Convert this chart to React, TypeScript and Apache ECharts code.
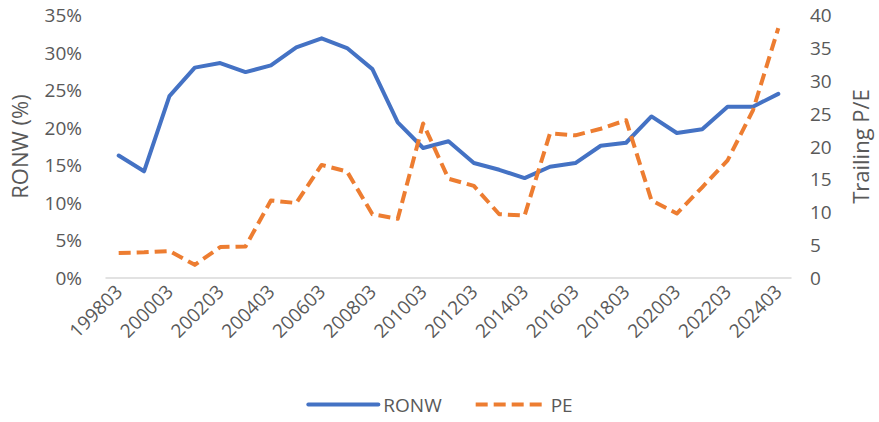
import React, { useEffect, useRef } from "react";
import * as echarts from "echarts";

// Fiscal year ends (March), one point per year
const periods = [
  "199803", "199903", "200003", "200103", "200203", "200303", "200403",
  "200503", "200603", "200703", "200803", "200903", "201003", "201103",
  "201203", "201303", "201403", "201503", "201603", "201703", "201803",
  "201903", "202003", "202103", "202203", "202303", "202403",
];

// Return on net worth, %
const ronw = [
  16.3, 14.2, 24.2, 28.0, 28.6, 27.4, 28.3, 30.7, 31.9, 30.6, 27.8, 20.7,
  17.3, 18.2, 15.3, 14.4, 13.3, 14.8, 15.3, 17.6, 18.0, 21.5, 19.3, 19.8,
  22.8, 22.8, 24.5,
];

// Trailing price / earnings multiple
const pe = [
  3.8, 3.9, 4.1, 2.0, 4.7, 4.8, 11.8, 11.4, 17.2, 16.2, 9.7, 9.0,
  23.5, 15.1, 14.0, 9.7, 9.5, 22.0, 21.7, 22.7, 24.0, 11.8, 9.8, 13.8,
  17.9, 25.5, 38.0,
];

const FONT = "'Open Sans', sans-serif";
const TEXT = "#595959";

export default function App() {
  const ref = useRef<HTMLDivElement>(null);

  useEffect(() => {
    if (!ref.current) return;
    const chart = echarts.init(ref.current, undefined, { renderer: "svg" });
    chart.setOption({
      animation: false,
      backgroundColor: "#ffffff",
      textStyle: { fontFamily: FONT, color: TEXT },
      grid: { left: 106, right: 83, top: 15, bottom: 144, containLabel: false },
      legend: {
        bottom: 3,
        left: "center",
        itemWidth: 70,
        itemHeight: 12,
        itemGap: 32,
        itemStyle: { opacity: 0 },
        lineStyle: { width: 4 },
        textStyle: { fontFamily: FONT, fontSize: 19, color: TEXT },
        data: ["RONW", "PE"],
      },
      xAxis: {
        type: "category",
        data: periods,
        boundaryGap: true,
        axisLine: { lineStyle: { color: "#d9d9d9", width: 1.5 } },
        axisTick: { show: false },
        axisLabel: {
          interval: 1,
          rotate: 45,
          fontFamily: FONT,
          fontSize: 19,
          color: TEXT,
          margin: 10,
        },
        splitLine: { show: false },
      },
      yAxis: [
        {
          type: "value",
          min: 0,
          max: 35,
          interval: 5,
          name: "RONW (%)",
          nameLocation: "middle",
          nameGap: 76,
          nameTextStyle: { fontFamily: FONT, fontSize: 22, color: TEXT },
          axisLine: { show: false },
          axisTick: { show: false },
          splitLine: { show: false },
          axisLabel: {
            formatter: "{value}%",
            fontFamily: FONT,
            fontSize: 19,
            color: TEXT,
            margin: 24,
          },
        },
        {
          type: "value",
          min: 0,
          max: 40,
          interval: 5,
          name: "Trailing P/E",
          nameLocation: "middle",
          nameGap: 58,
          nameTextStyle: { fontFamily: FONT, fontSize: 22, color: TEXT },
          axisLine: { show: false },
          axisTick: { show: false },
          splitLine: { show: false },
          axisLabel: {
            fontFamily: FONT,
            fontSize: 19,
            color: TEXT,
            margin: 19,
          },
        },
      ],
      series: [
        {
          name: "RONW",
          type: "line",
          yAxisIndex: 0,
          data: ronw,
          symbol: "none",
          lineStyle: { color: "#4472C4", width: 4, join: "round", cap: "round" },
          itemStyle: { color: "#4472C4" },
        },
        {
          name: "PE",
          type: "line",
          yAxisIndex: 1,
          data: pe,
          symbol: "none",
          lineStyle: { color: "#ED7D31", width: 4, type: [12, 6], join: "round" },
          itemStyle: { color: "#ED7D31" },
        },
      ],
    });
    return () => chart.dispose();
  }, []);

  return (
    <div
      ref={ref}
      style={{ position: "fixed", left: 0, top: 0, width: 879, height: 422 }}
    />
  );
}
